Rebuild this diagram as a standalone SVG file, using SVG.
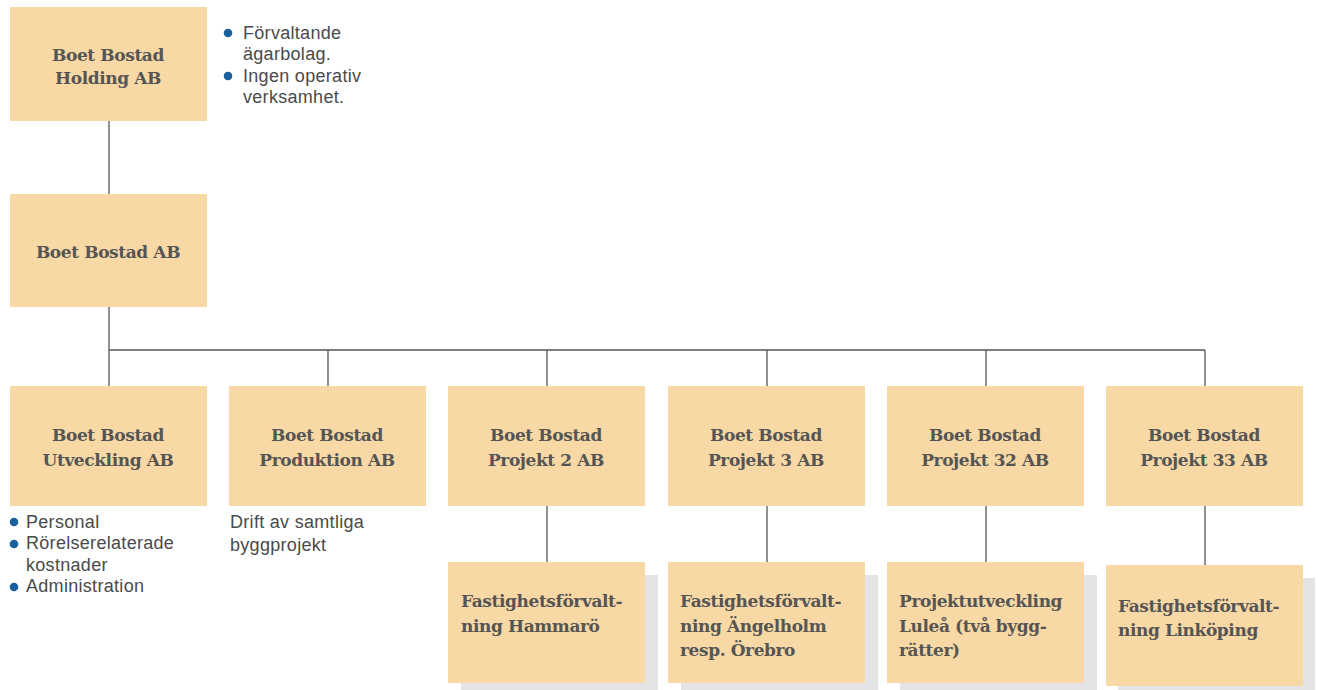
<svg xmlns="http://www.w3.org/2000/svg" width="1318" height="690" viewBox="0 0 1318 690">
<style>
.box{fill:#f8d8a4}
.sh{fill:#e4e4e6}
.t{font-family:"DejaVu Serif","Liberation Serif",serif;font-weight:bold;font-size:17px;letter-spacing:-0.4px;fill:#555555}
.tc{text-anchor:middle}
.p{font-family:"Liberation Sans","Noto Sans",sans-serif;font-size:18px;letter-spacing:0.3px;fill:#4a4a4a}
.b{fill:#1a5f9e}
.ln{stroke:#555555;stroke-width:1.3;fill:none}
</style>
<rect width="1318" height="690" fill="#ffffff"/>
<g id="connectors">
<path class="ln" d="M109 121V194M109 307V386M109 350H1205M328 350V386M547 350V386M767 350V386M986 350V386M1205 350V386M547 506V562M767 506V562M986 506V562M1205 506V565"/>
</g>
<g id="holding">
<rect class="box" x="10" y="7" width="197" height="114"/>
<text class="t tc" x="108" y="61">Boet Bostad</text>
<text class="t tc" x="108" y="84">Holding AB</text>
</g>
<g id="holding-note">
<circle class="b" cx="228" cy="33" r="4.3"/>
<circle class="b" cx="228" cy="76" r="4.3"/>
<text class="p" x="243" y="39">Förvaltande</text>
<text class="p" x="243" y="60">ägarbolag.</text>
<text class="p" x="243" y="82">Ingen operativ</text>
<text class="p" x="243" y="103">verksamhet.</text>
</g>
<g id="bostad">
<rect class="box" x="10" y="194" width="197" height="113"/>
<text class="t tc" x="108" y="258">Boet Bostad AB</text>
</g>
<g id="utveckling">
<rect class="box" x="10" y="386" width="197" height="120"/>
<text class="t tc" x="108" y="441">Boet Bostad</text>
<text class="t tc" x="108" y="466">Utveckling AB</text>
</g>
<g id="utveckling-note">
<circle class="b" cx="14" cy="522" r="4.3"/>
<circle class="b" cx="14" cy="544" r="4.3"/>
<circle class="b" cx="14" cy="587" r="4.3"/>
<text class="p" x="26" y="528">Personal</text>
<text class="p" x="26" y="549">Rörelserelaterade</text>
<text class="p" x="26" y="571">kostnader</text>
<text class="p" x="26" y="592">Administration</text>
</g>
<g id="produktion">
<rect class="box" x="229" y="386" width="197" height="120"/>
<text class="t tc" x="327" y="441">Boet Bostad</text>
<text class="t tc" x="327" y="466">Produktion AB</text>
</g>
<g id="produktion-note">
<text class="p" x="230" y="528">Drift av samtliga</text>
<text class="p" x="230" y="551">byggprojekt</text>
</g>
<g id="projekt2">
<rect class="box" x="448" y="386" width="197" height="120"/>
<text class="t tc" x="546" y="441">Boet Bostad</text>
<text class="t tc" x="546" y="466">Projekt 2 AB</text>
</g>
<g id="projekt3">
<rect class="box" x="668" y="386" width="197" height="120"/>
<text class="t tc" x="766" y="441">Boet Bostad</text>
<text class="t tc" x="766" y="466">Projekt 3 AB</text>
</g>
<g id="projekt32">
<rect class="box" x="887" y="386" width="197" height="120"/>
<text class="t tc" x="985" y="441">Boet Bostad</text>
<text class="t tc" x="985" y="466">Projekt 32 AB</text>
</g>
<g id="projekt33">
<rect class="box" x="1106" y="386" width="197" height="120"/>
<text class="t tc" x="1204" y="441">Boet Bostad</text>
<text class="t tc" x="1204" y="466">Projekt 33 AB</text>
</g>
<g id="hammaro">
<rect class="sh" x="461" y="575" width="197" height="121"/>
<rect class="box" x="448" y="562" width="197" height="121"/>
<text class="t" x="461" y="607">Fastighetsförvalt-</text>
<text class="t" x="461" y="632">ning Hammarö</text>
</g>
<g id="angelholm">
<rect class="sh" x="681" y="575" width="197" height="121"/>
<rect class="box" x="668" y="562" width="197" height="121"/>
<text class="t" x="680" y="607">Fastighetsförvalt-</text>
<text class="t" x="680" y="632">ning Ängelholm</text>
<text class="t" x="680" y="656">resp. Örebro</text>
</g>
<g id="lulea">
<rect class="sh" x="900" y="575" width="197" height="121"/>
<rect class="box" x="887" y="562" width="197" height="121"/>
<text class="t" x="899" y="607">Projektutveckling</text>
<text class="t" x="899" y="632">Luleå (två bygg-</text>
<text class="t" x="899" y="656">rätter)</text>
</g>
<g id="linkoping">
<rect class="sh" x="1118" y="578" width="197" height="121"/>
<rect class="box" x="1106" y="565" width="197" height="121"/>
<text class="t" x="1118" y="612">Fastighetsförvalt-</text>
<text class="t" x="1118" y="636">ning Linköping</text>
</g>
</svg>
